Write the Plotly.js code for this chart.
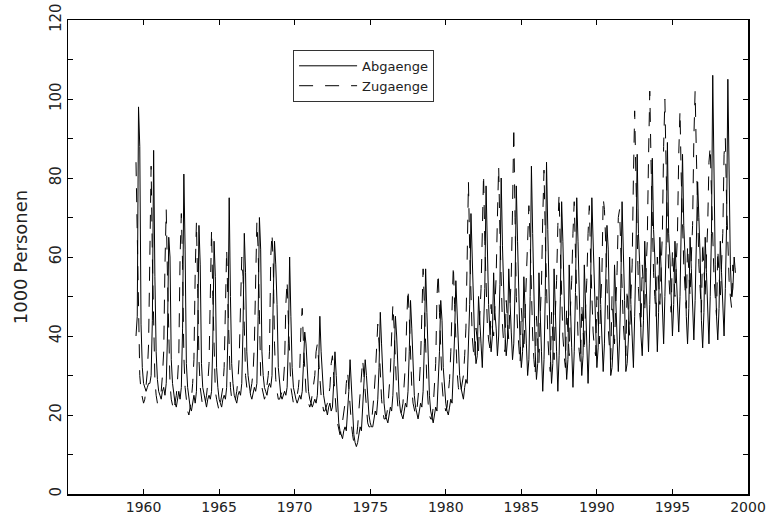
<!DOCTYPE html>
<html>
<head>
<meta charset="utf-8">
<script src="https://cdn.plot.ly/plotly-3.0.1.min.js"></script>
<style>
html, body { margin: 0; padding: 0; background: #fff; }
#chart { width: 772px; height: 520px; }
</style>
</head>
<body>
<div id="chart"></div>
<script>
// Monthly series, first value plotted at 1959.5, one step per month
const startYear = 1959.5;
const seriesNames = ["Abgaenge", "Zugaenge"];
const xTickVals = [1960, 1965, 1970, 1975, 1980, 1985, 1990, 1995, 2000];
const xTickText = ["1960", "1965", "1970", "1975", "1980", "1985", "1990", "1995", "2000"];
const yTickVals = [0, 20, 40, 60, 80, 100, 120];
const yTickText = ["0", "20", "40", "60", "80", "100", "120"];

// Zugaenge (dashed), rows = 12 months
const zug60 = [
  84, 62, 40, 30, 26, 24, 23, 24, 27, 31, 38, 64,
  83, 60, 38, 29, 25, 23, 24, 25, 26, 30, 36, 58,
  72, 55, 36, 28, 24, 22, 21, 23, 25, 29, 35, 60,
  71, 58, 35, 27, 23, 21, 20, 22, 24, 28, 34, 56,
  69, 52, 34, 27, 24, 22, 22, 23, 25, 28, 33, 55,
  67, 50, 33, 26, 24, 22, 21, 23, 25, 27, 32, 50,
  62, 48, 33, 27, 24, 23, 23, 24, 26, 29, 35, 52,
  60, 55, 40, 30, 27, 25, 25, 26, 28, 31, 38, 58,
  69, 62, 40, 30, 27, 25, 24, 25, 27, 30, 36, 60,
  66, 58, 38, 29, 26, 24, 24, 25, 26, 28, 33, 48
];
const zug70 = [
  54, 44, 33, 27, 25, 23, 23, 24, 25, 27, 31, 42,
  47, 38, 31, 26, 24, 23, 22, 23, 25, 27, 30, 36,
  38, 34, 29, 25, 23, 21, 21, 22, 23, 25, 27, 33,
  35, 30, 25, 21, 18, 16, 15, 16, 18, 20, 23, 28,
  31, 27, 22, 18, 15, 13, 13, 14, 17, 21, 24, 28,
  34, 30, 25, 21, 18, 17, 17, 18, 21, 25, 30, 38,
  43, 38, 30, 24, 21, 19, 19, 20, 22, 26, 31, 40,
  48, 42, 32, 26, 22, 20, 20, 21, 23, 27, 33, 44,
  52, 45, 34, 27, 23, 21, 20, 21, 24, 28, 34, 48,
  57, 48, 36, 28, 23, 20, 19, 19, 22, 27, 33, 50
];
const zug80 = [
  56, 46, 35, 28, 24, 22, 21, 22, 25, 29, 36, 50,
  58, 48, 38, 31, 27, 25, 26, 28, 30, 35, 42, 60,
  79, 62, 48, 40, 36, 34, 42, 38, 36, 45, 52, 66,
  81, 64, 50, 43, 39, 37, 48, 42, 40, 48, 55, 70,
  83, 66, 50, 43, 38, 36, 49, 42, 39, 48, 55, 72,
  93, 70, 50, 42, 36, 33, 47, 40, 36, 46, 54, 66,
  73, 64, 48, 40, 34, 30, 45, 38, 33, 45, 53, 70,
  82, 66, 48, 40, 34, 31, 46, 38, 34, 46, 54, 68,
  76, 62, 47, 40, 35, 32, 47, 39, 35, 47, 54, 66,
  74, 61, 47, 40, 36, 33, 48, 40, 36, 47, 54, 66
];
const zug90 = [
  73, 60, 48, 41, 37, 35, 50, 42, 38, 48, 56, 75,
  72, 64, 50, 42, 37, 34, 50, 42, 38, 48, 56, 70,
  72, 62, 50, 43, 38, 35, 52, 44, 40, 50, 58, 80,
  97, 80, 62, 52, 46, 42, 58, 50, 46, 56, 64, 85,
  102, 84, 66, 56, 50, 45, 60, 52, 48, 57, 66, 88,
  100, 82, 64, 56, 50, 46, 62, 54, 50, 58, 66, 86,
  97, 80, 66, 58, 52, 47, 63, 55, 50, 60, 68, 90,
  102, 86, 68, 58, 52, 46, 64, 55, 50, 60, 68, 84,
  88, 76, 62, 55, 50, 45, 62, 54, 49, 58, 66, 86,
  90, 74, 60, 54, 50, 47, 58, 55, 57
];

// Abgaenge (solid)
const abg60 = [
  40, 45, 98, 88, 43, 32, 28, 27, 26, 27, 28, 28,
  30, 44, 87, 55, 36, 29, 26, 25, 24, 26, 27, 25,
  28, 40, 65, 60, 34, 28, 25, 23, 22, 24, 26, 24,
  27, 42, 81, 62, 33, 27, 24, 22, 21, 23, 25, 23,
  26, 40, 68, 58, 33, 27, 25, 23, 22, 24, 25, 24,
  26, 38, 64, 55, 32, 27, 24, 23, 22, 24, 25, 24,
  27, 40, 75, 50, 33, 28, 25, 24, 23, 25, 26, 25,
  28, 42, 66, 56, 36, 30, 27, 25, 24, 26, 27, 26,
  28, 45, 70, 62, 36, 30, 27, 26, 25, 27, 28, 27,
  30, 50, 64, 58, 48, 32, 27, 25, 24, 25, 26, 25
];
const abg70 = [
  27, 38, 60, 45, 32, 27, 25, 24, 23, 24, 25, 24,
  26, 33, 41, 38, 30, 26, 24, 23, 22, 23, 24, 23,
  25, 32, 45, 36, 29, 25, 23, 21, 20, 22, 23, 21,
  22, 28, 36, 30, 22, 18, 16, 15, 14, 16, 17, 16,
  20, 26, 34, 28, 20, 15, 13, 12, 13, 15, 17, 16,
  22, 28, 34, 30, 24, 20, 18, 17, 17, 19, 21, 20,
  24, 32, 46, 38, 28, 23, 20, 19, 18, 20, 22, 21,
  25, 34, 45, 40, 30, 24, 21, 20, 19, 21, 23, 22,
  26, 36, 49, 42, 31, 25, 22, 20, 19, 21, 23, 22,
  26, 38, 57, 46, 32, 25, 21, 19, 18, 20, 22, 21
];
const abg80 = [
  27, 36, 49, 44, 32, 26, 23, 21, 20, 22, 24, 23,
  30, 40, 54, 47, 36, 30, 27, 25, 24, 27, 29, 28,
  36, 48, 71, 58, 44, 38, 33, 35, 50, 42, 38, 32,
  40, 52, 78, 62, 48, 41, 36, 40, 56, 46, 42, 35,
  40, 53, 80, 63, 48, 41, 35, 39, 57, 46, 41, 34,
  38, 52, 78, 64, 46, 38, 32, 36, 55, 44, 38, 30,
  34, 50, 83, 66, 46, 36, 29, 33, 56, 43, 36, 26,
  34, 50, 84, 67, 46, 36, 28, 33, 57, 44, 36, 26,
  35, 50, 74, 64, 47, 37, 29, 34, 58, 45, 37, 27,
  36, 51, 75, 64, 48, 38, 30, 35, 58, 46, 38, 28
];
const abg90 = [
  38, 52, 75, 65, 50, 40, 32, 37, 60, 48, 40, 31,
  38, 50, 68, 62, 48, 30, 32, 38, 58, 47, 40, 31,
  39, 52, 74, 64, 49, 31, 33, 39, 60, 48, 41, 32,
  45, 60, 86, 66, 58, 40, 35, 44, 64, 55, 46, 36,
  48, 62, 85, 67, 60, 44, 36, 46, 65, 57, 48, 38,
  50, 63, 89, 66, 60, 46, 40, 48, 64, 56, 49, 41,
  50, 64, 86, 68, 60, 45, 38, 47, 65, 57, 48, 39,
  49, 62, 79, 70, 60, 44, 37, 46, 65, 56, 48, 38,
  50, 66, 106, 75, 58, 45, 39, 47, 64, 56, 49, 40,
  52, 68, 105, 72, 58, 50, 52, 60, 56
];

const zug = zug60.concat(zug70, zug80, zug90);
const abg = abg60.concat(abg70, abg80, abg90);
const xZug = zug.map((_, i) => startYear + i / 12);
const xAbg = abg.map((_, i) => startYear + i / 12);

const font = "DejaVu Sans, sans-serif";
const txt = "#222";

const traces = [
  { x: xAbg, y: abg, name: seriesNames[0], type: "scatter", mode: "lines",
    line: { color: "#000", width: 1 } },
  { x: xZug, y: zug, name: seriesNames[1], type: "scatter", mode: "lines",
    line: { color: "#000", width: 1, dash: "14px,12px" } }
];

const layout = {
  width: 772, height: 520,
  margin: { l: 68, r: 24, t: 20, b: 26, pad: 0 },
  paper_bgcolor: "#fff", plot_bgcolor: "#fff",
  font: { family: font, color: txt, size: 14 },
  showlegend: true,
  legend: {
    x: 0.331, y: 0.937, xanchor: "left", yanchor: "top",
    bgcolor: "#fff", bordercolor: "#333", borderwidth: 1,
    font: { family: font, size: 13, color: txt },
    itemwidth: 58, tracegroupgap: 0
  },
  xaxis: {
    range: [1955, 2000], autorange: false,
    tickmode: "array", tickvals: xTickVals, ticktext: xTickText,
    ticks: "inside", ticklen: 5, tickwidth: 1, tickcolor: "#000",
    showline: true, linecolor: "#000", linewidth: 1.5, mirror: "ticks",
    showgrid: false, zeroline: false,
    tickfont: { family: font, size: 14, color: txt },
    ticklabelstandoff: 0
  },
  yaxis: {
    range: [0, 120], autorange: false,
    tickmode: "array", tickvals: yTickVals, ticktext: yTickText,
    ticks: "inside", ticklen: 5, tickwidth: 1, tickcolor: "#000",
    minor: { dtick: 10, ticks: "inside", ticklen: 5, tickcolor: "#000", tickwidth: 1, showgrid: false },
    showline: true, linecolor: "#000", linewidth: 1.5, mirror: "ticks",
    showgrid: false, zeroline: false,
    tickangle: -90,
    tickfont: { family: font, size: 15, color: txt },
    ticklabelstandoff: 0,
    title: { text: "1000 Personen", font: { family: font, size: 18, color: txt }, standoff: 14 }
  }
};

Plotly.newPlot("chart", traces, layout, { displayModeBar: false, staticPlot: true });
</script>
</body>
</html>
